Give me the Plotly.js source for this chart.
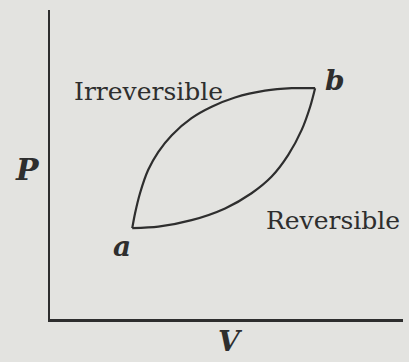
<!DOCTYPE html>
<html>
<head>
<meta charset="utf-8">
<script src="https://cdn.plot.ly/plotly-3.0.1.min.js"></script>
<style>
  html, body { margin: 0; padding: 0; background: #e3e3e0; }
  #chart { width: 409px; height: 362px; }
</style>
</head>
<body>
<div id="chart"></div>
<script>
// path a -> b (arbitrary V, P units)
const irrevV = [2.33, 2.41, 2.55, 2.78, 3.07, 3.45, 4.01, 4.58, 5.24, 6.09, 6.85, 7.51];
const irrevP = [2.94, 3.42, 4.07, 4.82, 5.41, 5.95, 6.50, 6.87, 7.17, 7.39, 7.47, 7.47];
const revV = [2.33, 3.07, 4.01, 4.96, 5.71, 6.28, 6.75, 7.13, 7.37, 7.51];
const revP = [2.94, 2.99, 3.20, 3.58, 4.07, 4.61, 5.31, 6.12, 6.87, 7.47];

const ink = '#2e2e2e';
const labelFont = { family: 'DejaVu Serif', size: 25, color: ink };
const letterFont = { family: 'DejaVu Serif', size: 28, color: ink, weight: 'bold', style: 'italic' };
const axisFont = { family: 'DejaVu Serif', size: 30, color: ink, weight: 'bold', style: 'italic' };

const data = [
  { x: irrevV, y: irrevP, mode: 'lines', line: { color: ink, width: 2.2, shape: 'spline', smoothing: 0.8 }, hoverinfo: 'skip' },
  { x: revV, y: revP, mode: 'lines', line: { color: ink, width: 2.2, shape: 'spline', smoothing: 0.8 }, hoverinfo: 'skip' }
];

const layout = {
  width: 409,
  height: 362,
  margin: { l: 50, r: 6, t: 10, b: 43 },
  paper_bgcolor: '#e3e3e0',
  plot_bgcolor: '#e3e3e0',
  showlegend: false,
  xaxis: { range: [0, 10], showline: true, linecolor: ink, linewidth: 2.5, showgrid: false, zeroline: false, showticklabels: false, ticks: '' },
  yaxis: { range: [0, 10], showline: true, linecolor: ink, linewidth: 2.5, showgrid: false, zeroline: false, showticklabels: false, ticks: '' },
  annotations: [
    { x: 0.62, y: 7.35, text: 'Irreversible', xanchor: 'left', yanchor: 'middle', showarrow: false, font: labelFont },
    { x: 6.07, y: 3.20, text: 'Reversible', xanchor: 'left', yanchor: 'middle', showarrow: false, font: labelFont },
    { x: 8.07, y: 7.73, text: 'b', showarrow: false, font: letterFont },
    { x: 2.04, y: 2.36, text: 'a', showarrow: false, font: letterFont },
    { xref: 'paper', yref: 'paper', x: -0.105, y: 0.485, xanchor: 'left', yanchor: 'middle', text: 'P', showarrow: false, font: axisFont },
    { xref: 'paper', yref: 'paper', x: 0.51, y: -0.074, xanchor: 'center', yanchor: 'middle', text: 'V', showarrow: false, font: letterFont }
  ]
};

Plotly.newPlot('chart', data, layout, { staticPlot: true });
</script>
</body>
</html>
